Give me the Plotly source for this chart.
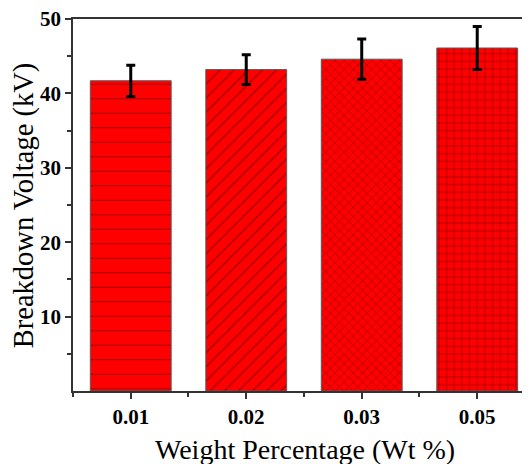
import plotly.graph_objects as go

categories = ["0.01", "0.02", "0.03", "0.05"]
voltage = [41.7, 43.2, 44.6, 46.1]
error = [2.1, 2.0, 2.7, 2.9]
patterns = ["-", "/", "x", "+"]
pattern_sizes = [14.5, 10, 6.5, 7.7]
pattern_solidity = [0.07, 0.12, 0.18, 0.18]

xpos = list(range(len(categories)))

fig = go.Figure()
fig.add_trace(go.Bar(
    x=xpos, y=voltage, width=0.7,
    marker=dict(
        color="#ff0000",
        line=dict(color="#5a5a5a", width=1),
        pattern=dict(shape=patterns, fgcolor="#3a0000", bgcolor="#ff0000",
                     size=pattern_sizes, solidity=pattern_solidity, fillmode="overlay"),
    ),
    error_y=dict(type="data", array=error, color="black", thickness=3, width=4.5),
    showlegend=False,
))

font_serif = "Liberation Serif, Times New Roman, serif"
fig.update_layout(
    width=522, height=456,
    margin=dict(l=65, r=0, t=11, b=73),
    paper_bgcolor="white", plot_bgcolor="white",
    font=dict(family=font_serif, color="black"),
    xaxis=dict(
        range=[-0.5, 3.457], tickvals=xpos, ticktext=[f"<b>{c}</b>" for c in categories],
        showline=True, linecolor="#333333", linewidth=1.5, mirror=True,
        ticks="outside", ticklen=6, tickcolor="#333333", tickwidth=1.5,
        tickfont=dict(size=21, family=font_serif), ticklabeloverflow="allow",
        minor=dict(tick0=0.5, dtick=1, ticks="outside", ticklen=4, tickcolor="#333333", tickwidth=1.5),
        showgrid=False, zeroline=False, automargin=False,
    ),
    yaxis=dict(
        range=[0, 50], tickvals=[10, 20, 30, 40, 50],
        ticktext=["<b>10</b>", "<b>20</b>", "<b>30</b>", "<b>40</b>", "<b>50</b>"],
        showline=True, linecolor="#333333", linewidth=1.5, mirror=False,
        ticks="outside", ticklen=6, tickcolor="#333333", tickwidth=1.5,
        tickfont=dict(size=21, family=font_serif), ticklabeloverflow="allow",
        minor=dict(tick0=5, dtick=10, ticks="outside", ticklen=4, tickcolor="#333333", tickwidth=1.5),
        showgrid=False, zeroline=False, automargin=False,
    ),
    annotations=[
        dict(text="Weight Percentage (Wt %)", xref="paper", yref="paper",
             x=0.508, y=-0.157, xanchor="center", yanchor="middle", showarrow=False,
             font=dict(size=28, family=font_serif, color="black")),
        dict(text="Breakdown Voltage (kV)", xref="paper", yref="paper", textangle=-90,
             x=-0.107, y=0.497, xanchor="center", yanchor="middle", showarrow=False,
             font=dict(size=28.5, family=font_serif, color="black")),
    ],
)

fig.write_html("out.html")
